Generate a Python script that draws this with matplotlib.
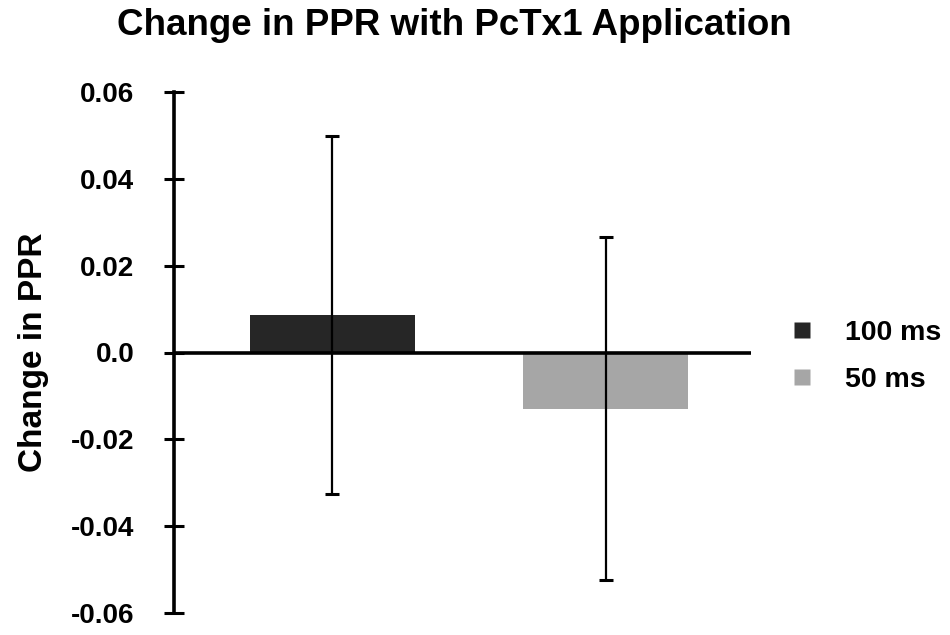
import matplotlib
matplotlib.use("Agg")
import matplotlib.pyplot as plt
from matplotlib.lines import Line2D

plt.rcParams['font.family'] = ['Liberation Sans', 'DejaVu Sans']
plt.rcParams['font.weight'] = 'bold'

categories = ["100 ms", "50 ms"]
means = [0.0086, -0.0129]
errors = [0.0412, 0.0396]
colors = ["#262626", "#a6a6a6"]
yticks = [-0.06, -0.04, -0.02, 0.0, 0.02, 0.04, 0.06]
ytick_labels = ["-0.06", "-0.04", "-0.02", "0.0", "0.02", "0.04", "0.06"]
title = "Change in PPR with PcTx1 Application"
ylabel = "Change in PPR"

fig = plt.figure(figsize=(9.5, 6.35), dpi=100)
W, H = 950, 635
left, right, top, bottom = 174, 751, 92, 613
ax = fig.add_axes([left / W, 1 - bottom / H, (right - left) / W, (bottom - top) / H])

x = list(range(len(categories)))
ax.bar(x, means, width=0.604, color=colors, edgecolor='none', zorder=2)
ax.errorbar(x, means, yerr=errors, fmt='none', ecolor='black', elinewidth=1.6,
            capsize=5, capthick=2.2, zorder=3)
ax.axhline(0, color='black', linewidth=2.6, zorder=4)

ax.set_xlim(-0.579, 1.531)
ax.set_ylim(-0.06, 0.06)
ax.set_yticks(yticks)
ax.set_yticklabels(ytick_labels, fontsize=20, fontweight='bold')
ax.set_xticks([])
for s in ['top', 'right', 'bottom']:
    ax.spines[s].set_visible(False)
ax.spines['left'].set_linewidth(2.6)
ax.spines['left'].set_bounds(-0.06, 0.06)
ax.tick_params(axis='y', direction='inout', length=14, width=2.2, pad=21.5)

ax.set_ylabel(ylabel, fontsize=24, fontweight='bold')
ax.yaxis.set_label_coords((49 - left) / (right - left), 0.5)

fig.text(454 / W, 1 - 35 / H, title, fontsize=26.5, fontweight='bold',
         ha='center', va='baseline')

handles = [Line2D([], [], linestyle='none', marker='s', markersize=12,
                  markerfacecolor=c, markeredgecolor='none') for c in colors]
fig.legend(handles, categories, loc='upper left', bbox_to_anchor=(787.6 / W, 1 - 320 / H),
           frameon=False, handlelength=1.0, handletextpad=1.0,
           borderpad=0, borderaxespad=0, labelspacing=0.73,
           prop={'weight': 'bold', 'size': 20.5})

fig.savefig("out.png", dpi=100)
